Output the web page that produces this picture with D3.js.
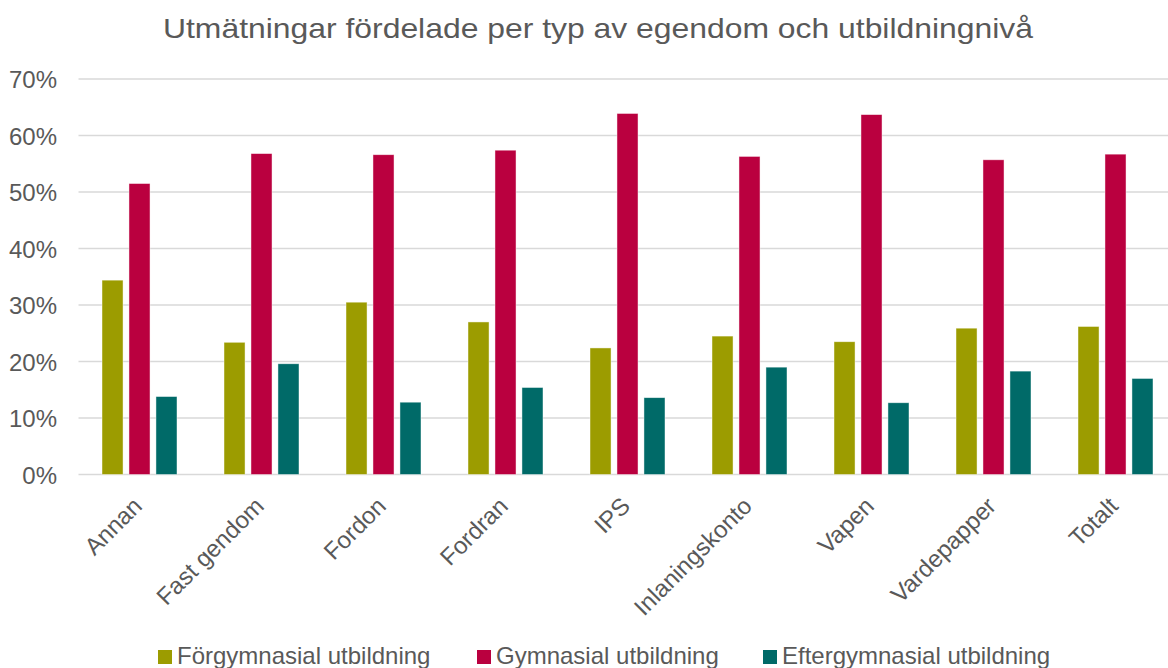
<!DOCTYPE html>
<html lang="sv">
<head>
<meta charset="UTF-8">
<title>Utmätningar fördelade per typ av egendom och utbildningnivå</title>
<script src="https://d3js.org/d3.v7.min.js"></script>
<style>
    body { margin: 0; background: #fff; }
    svg text { font-family: "Liberation Sans", Arial, sans-serif; fill: #595959; }
</style>
</head>
<body>
<div id="chart"></div>
<script>
    // data
    var categories = ["Annan", "Fast gendom", "Fordon", "Fordran", "IPS", "Inlaningskonto", "Vapen", "Vardepapper", "Totalt"];
    var seriesNames = ["Förgymnasial utbildning", "Gymnasial utbildning", "Eftergymnasial utbildning"];
    var forgymnasial = [34.4, 23.4, 30.5, 27.0, 22.4, 24.5, 23.5, 25.9, 26.2];
    var gymnasial = [51.5, 56.8, 56.6, 57.4, 63.9, 56.3, 63.7, 55.7, 56.7];
    var eftergymnasial = [13.8, 19.6, 12.8, 15.4, 13.6, 19.0, 12.7, 18.3, 17.0];
    var yTicks = [0, 10, 20, 30, 40, 50, 60, 70];
    var colors = ["#9c9c00", "#ba003f", "#006a68"];

    var width = 1168, height = 668;
    var margin = { top: 79, left: 78.5, bottom: 474.5 };

    var values = [forgymnasial, gymnasial, eftergymnasial];

    var svg = d3.select("#chart").append("svg")
        .attr("width", width)
        .attr("height", height);

    // the plot area runs a bit past the right edge of the picture
    var x = d3.scaleBand()
        .domain(categories)
        .range([margin.left, margin.left + 122 * categories.length]);

    // three bars inside each category with a small gap
    var inner = d3.scaleBand()
        .domain([0, 1, 2])
        .range([x.bandwidth() / 2 - 37.5, x.bandwidth() / 2 + 37.5])
        .paddingInner(0.22);

    var y = d3.scaleLinear()
        .domain([0, 70])
        .range([margin.bottom, margin.top]);

    // title
    svg.append("text")
        .attr("x", 598)
        .attr("y", 38)
        .attr("text-anchor", "middle")
        .attr("textLength", 870)
        .attr("lengthAdjust", "spacingAndGlyphs")
        .style("font-size", "28px")
        .text("Utmätningar fördelade per typ av egendom och utbildningnivå");

    // gridlines
    svg.append("g")
        .selectAll("line")
        .data(yTicks)
        .enter().append("line")
        .attr("x1", margin.left)
        .attr("x2", width)
        .attr("y1", function (d) { return y(d); })
        .attr("y2", function (d) { return y(d); })
        .attr("stroke", "#d9d9d9")
        .attr("stroke-width", 1.3);

    // y axis labels
    var yAxis = svg.append("g")
        .attr("transform", "translate(57,0)")
        .call(d3.axisLeft(y).tickValues(yTicks).tickSize(0).tickPadding(0)
            .tickFormat(function (d) { return d + "%"; }));
    yAxis.select(".domain").remove();
    yAxis.selectAll("text")
        .attr("dy", "0.36em")
        .style("font-size", "24px")
        .style("font-family", "\"Liberation Sans\", Arial, sans-serif")
        .attr("fill", "#595959");

    // bars
    var groups = svg.selectAll(".cat")
        .data(categories)
        .enter().append("g")
        .attr("class", "cat")
        .attr("transform", function (d) { return "translate(" + x(d) + ",0)"; });

    groups.selectAll("rect")
        .data(function (d, i) {
            return values.map(function (s, k) { return { k: k, v: s[i] }; });
        })
        .enter().append("rect")
        .attr("x", function (d) { return inner(d.k); })
        .attr("width", inner.bandwidth())
        .attr("y", function (d) { return y(d.v); })
        .attr("height", function (d) { return y(0) - y(d.v); })
        .attr("fill", function (d) { return colors[d.k]; })
        .attr("stroke", "#ffffff")
        .attr("stroke-opacity", 0.6)
        .attr("stroke-width", 0.75);

    // x axis labels, rotated
    var xAxis = svg.append("g")
        .attr("transform", "translate(0," + margin.bottom + ")")
        .call(d3.axisBottom(x).tickSize(0).tickPadding(0));
    xAxis.select(".domain").remove();
    xAxis.selectAll("text")
        .attr("text-anchor", "end")
        .attr("dy", "0")
        .attr("y", 0)
        .attr("transform", "translate(4,33) rotate(-45)")
        .style("font-size", "24px")
        .style("font-family", "\"Liberation Sans\", Arial, sans-serif")
        .attr("fill", "#595959");

    // legend
    var legendX = [158, 477, 763];
    var legend = svg.append("g");
    seriesNames.forEach(function (name, i) {
        legend.append("rect")
            .attr("x", legendX[i])
            .attr("y", 650)
            .attr("width", 14)
            .attr("height", 14)
            .attr("fill", colors[i]);
        legend.append("text")
            .attr("x", legendX[i] + 19)
            .attr("y", 664)
            .style("font-size", "24px")
            .text(name);
    });
</script>
</body>
</html>
